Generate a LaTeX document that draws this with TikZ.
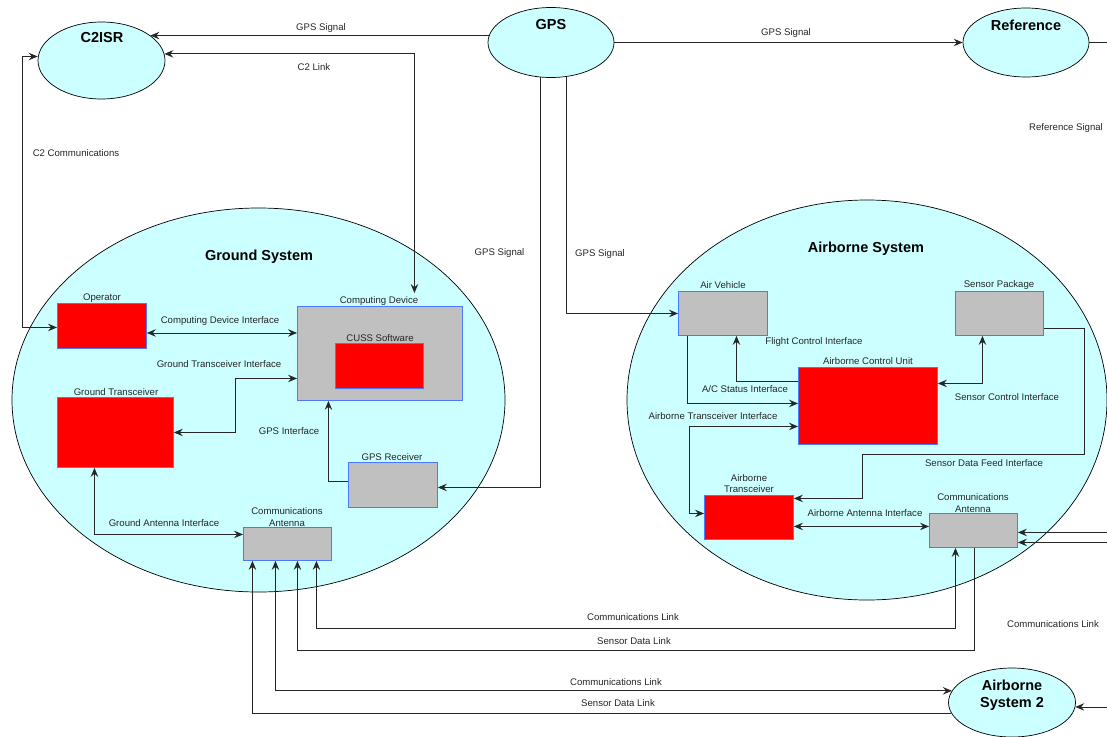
\documentclass[tikz,border=0pt]{standalone}
\usepackage{fontspec}
\setmainfont{Liberation Sans}
\usetikzlibrary{arrows.meta,shapes.geometric,calc}
\pgfdeclarelayer{bg}
\pgfdeclarelayer{wires}
\pgfsetlayers{bg,wires,main}
\definecolor{sky}{RGB}{204,255,255}
\definecolor{redfill}{RGB}{255,0,0}
\definecolor{grayfill}{RGB}{192,192,192}
\definecolor{boxline}{RGB}{77,121,255}
\begin{document}
\begin{tikzpicture}[x=1pt,y=-1pt,
  >={Stealth[length=9pt,width=7.5pt,inset=3.2pt]},
  ell/.style={ellipse,draw=black,fill=sky,line width=0.7pt,inner sep=0pt},
  rbox/.style={rectangle,draw=boxline,fill=redfill,line width=0.9pt,inner sep=0pt,anchor=north west},
  gbox/.style={rectangle,draw=boxline,fill=grayfill,line width=0.9pt,inner sep=0pt,anchor=north west},
  lbl/.style={font=\fontsize{9.6}{11.5}\selectfont,text=black!85,inner sep=0pt,align=center},
  ttl/.style={font=\fontsize{14.5}{17.5}\selectfont\bfseries,text=black,inner sep=0pt,align=center},
  wire/.style={draw=black!85,line width=0.85pt}]
\useasboundingbox (0,0) rectangle (1107,736);
\clip (0,0) rectangle (1107,736);

% system ellipses
\begin{pgfonlayer}{bg}
\fill[white] (0,0) rectangle (1107,736);
\node[ell,minimum width=493pt,minimum height=384pt] (gsys) at (258.5,400) {};
\node[ell,minimum width=480pt,minimum height=400pt] (asys) at (867,400) {};
\end{pgfonlayer}
\node[ttl] (gsyst) at (259,257) {Ground System};
\node[ttl] (asyst) at (866,249) {Airborne System};

% outer ellipses
\node[ell,minimum width=127pt,minimum height=77pt] (c2) at (101.5,60.5) {};
\node[ell,minimum width=126pt,minimum height=70pt] (gps) at (551,42.5) {};
\node[ell,minimum width=126pt,minimum height=69pt] (ref) at (1026,42.5) {};
\node[ell,minimum width=127pt,minimum height=69pt] (as2) at (1012,702.5) {};
\node[ttl] (c2t) at (102,38) {C2ISR};
\node[ttl] (gpst) at (551,25) {GPS};
\node[ttl] (reft) at (1026,25) {Reference};
\node[ttl] (as2t) at (1012,695) {Airborne\\System 2};

% ground boxes
\node[rbox,minimum width=89pt,minimum height=45pt] (op) at (57,303) {};
\node[gbox,minimum width=165pt,minimum height=94pt] (cd) at (297,306) {};
\node[rbox,minimum width=88pt,minimum height=45pt] (cuss) at (335,343) {};
\node[rbox,minimum width=116pt,minimum height=70pt] (gt) at (57,397) {};
\node[gbox,minimum width=89pt,minimum height=45pt] (gpsr) at (348,462) {};
\node[gbox,minimum width=88pt,minimum height=33pt] (gant) at (243,527) {};
\node[lbl] (opl) at (102,298) {Operator};
\node[lbl] (cdl) at (379,301) {Computing Device};
\node[lbl] (cussl) at (380,338) {CUSS Software};
\node[lbl] (gtl) at (116,392) {Ground Transceiver};
\node[lbl] (gpsrl) at (392,457) {GPS Receiver};
\node[lbl] (gantl) at (287,517) {Communications\\Antenna};

% airborne boxes
\node[gbox,minimum width=89pt,minimum height=44pt] (av) at (678,291) {};
\node[gbox,minimum width=88pt,minimum height=44pt] (sp) at (955,291) {};
\node[rbox,minimum width=139pt,minimum height=77pt] (acu) at (798,367) {};
\node[rbox,minimum width=89pt,minimum height=44pt] (atr) at (704,495) {};
\node[gbox,minimum width=88pt,minimum height=34pt] (aant) at (929,513) {};
\node[lbl] (avl) at (723,285) {Air Vehicle};
\node[lbl] (spl) at (999,285) {Sensor Package};
\node[lbl] (acul) at (868,361) {Airborne Control Unit};
\node[lbl] (atrl) at (749,483.5) {Airborne\\Transceiver};
\node[lbl] (aantl) at (973,503) {Communications\\Antenna};

% connectors
\begin{pgfonlayer}{wires}
\draw[wire,->] (gps.center |- c2.27) -- (c2.27);
\draw[wire,<->] (c2.6) -| ([xshift=34.5pt,yshift=13pt]cd.north);
\draw[wire,<->] ([yshift=-1.5pt]op.west) -| ([xshift=-15pt,yshift=4pt]c2.west) -- ([yshift=4pt]c2.west);
\draw[wire,->] (gps.east) -- (ref.west);
\draw[wire] (ref.east) -- ++(40,0);
\draw[wire,->] ([xshift=-11pt]gps.center) |- ([yshift=-2.5pt]gpsr.east);
\draw[wire,->] ([xshift=15pt]gps.center) |- (av.west);
% ground
\draw[wire,<->] ([yshift=-7pt]op.east) -- ([yshift=-7pt]op.east -| cd.west);
\draw[wire,<->] (gt.east) -- ++(62,0) |- ([yshift=-25pt]cd.west);
\draw[wire,->] ([yshift=3.5pt]gpsr.west) -| ([xshift=-51.5pt]cd.south);
\draw[wire,<->] ([xshift=-21pt]gt.south) |- ([yshift=9.5pt]gant.west);
% airborne
\draw[wire,->] ([yshift=24.5pt]acu.west) -| ([xshift=13.5pt]av.south);
\draw[wire,->] ([xshift=-35.5pt]av.south) |- ([yshift=2.5pt]acu.west);
\draw[wire,<->] ([yshift=-20.5pt]acu.west) -- ++(-109,0) |- ([yshift=4pt]atr.west);
\draw[wire,<->] ([yshift=22.5pt]acu.east) -| ([xshift=-17pt]sp.south);
\draw[wire,->] ([yshift=-15pt]sp.east) -- ++(41,0) -- ++(0,126) -- ++(-222,0) |- ([yshift=19pt]atr.east);
\draw[wire,<->] ([yshift=-9pt]atr.east) -- ([yshift=-9pt]atr.east -| aant.west);
\draw[wire,<-] ([yshift=-2pt]aant.east) -- ++(120,0);
\draw[wire,<-] ([yshift=-12pt]aant.east) -- ++(120,0);
% links
\draw[wire,<->] ([xshift=29pt]gant.south) -- ++(0,68) -| ([xshift=-18pt]aant.south);
\draw[wire,<-] ([xshift=10pt]gant.south) -- ++(0,90) -| ([xshift=1pt]aant.south);
\draw[wire,<->] ([xshift=-12pt]gant.south) |- (as2.169);
\draw[wire,<-] ([xshift=-35pt]gant.south) |- (as2.190);
\draw[wire,<-] (as2.-4) -- ++(60,0);
\end{pgfonlayer}

% connector labels
\node[lbl] (l1) at (321,28) {GPS Signal};
\node[lbl] (l2) at (314,67) {C2 Link};
\node[lbl] (l3) at (76,153) {C2 Communications};
\node[lbl] (l4) at (786,33) {GPS Signal};
\node[lbl] (l5) at (1066,128) {Reference Signal};
\node[lbl] (l6) at (499.5,253) {GPS Signal};
\node[lbl] (l7) at (600,254) {GPS Signal};
\node[lbl] (l8) at (220,321) {Computing Device Interface};
\node[lbl] (l9) at (219,364) {Ground Transceiver Interface};
\node[lbl] (l10) at (289,431) {GPS Interface};
\node[lbl] (l11) at (164,523) {Ground Antenna Interface};
\node[lbl] (l12) at (814,342) {Flight Control Interface};
\node[lbl] (l13) at (745,389) {A/C Status Interface};
\node[lbl] (l14) at (1007,397) {Sensor Control Interface};
\node[lbl] (l15) at (713,416) {Airborne Transceiver Interface};
\node[lbl] (l16) at (984,463) {Sensor Data Feed Interface};
\node[lbl] (l17) at (865,513) {Airborne Antenna Interface};
\node[lbl] (l18) at (633,617) {Communications Link};
\node[lbl] (l19) at (634,641) {Sensor Data Link};
\node[lbl] (l20) at (616,682) {Communications Link};
\node[lbl] (l21) at (618,703) {Sensor Data Link};
\node[lbl] (l22) at (1053,624) {Communications Link};
\end{tikzpicture}
\end{document}
